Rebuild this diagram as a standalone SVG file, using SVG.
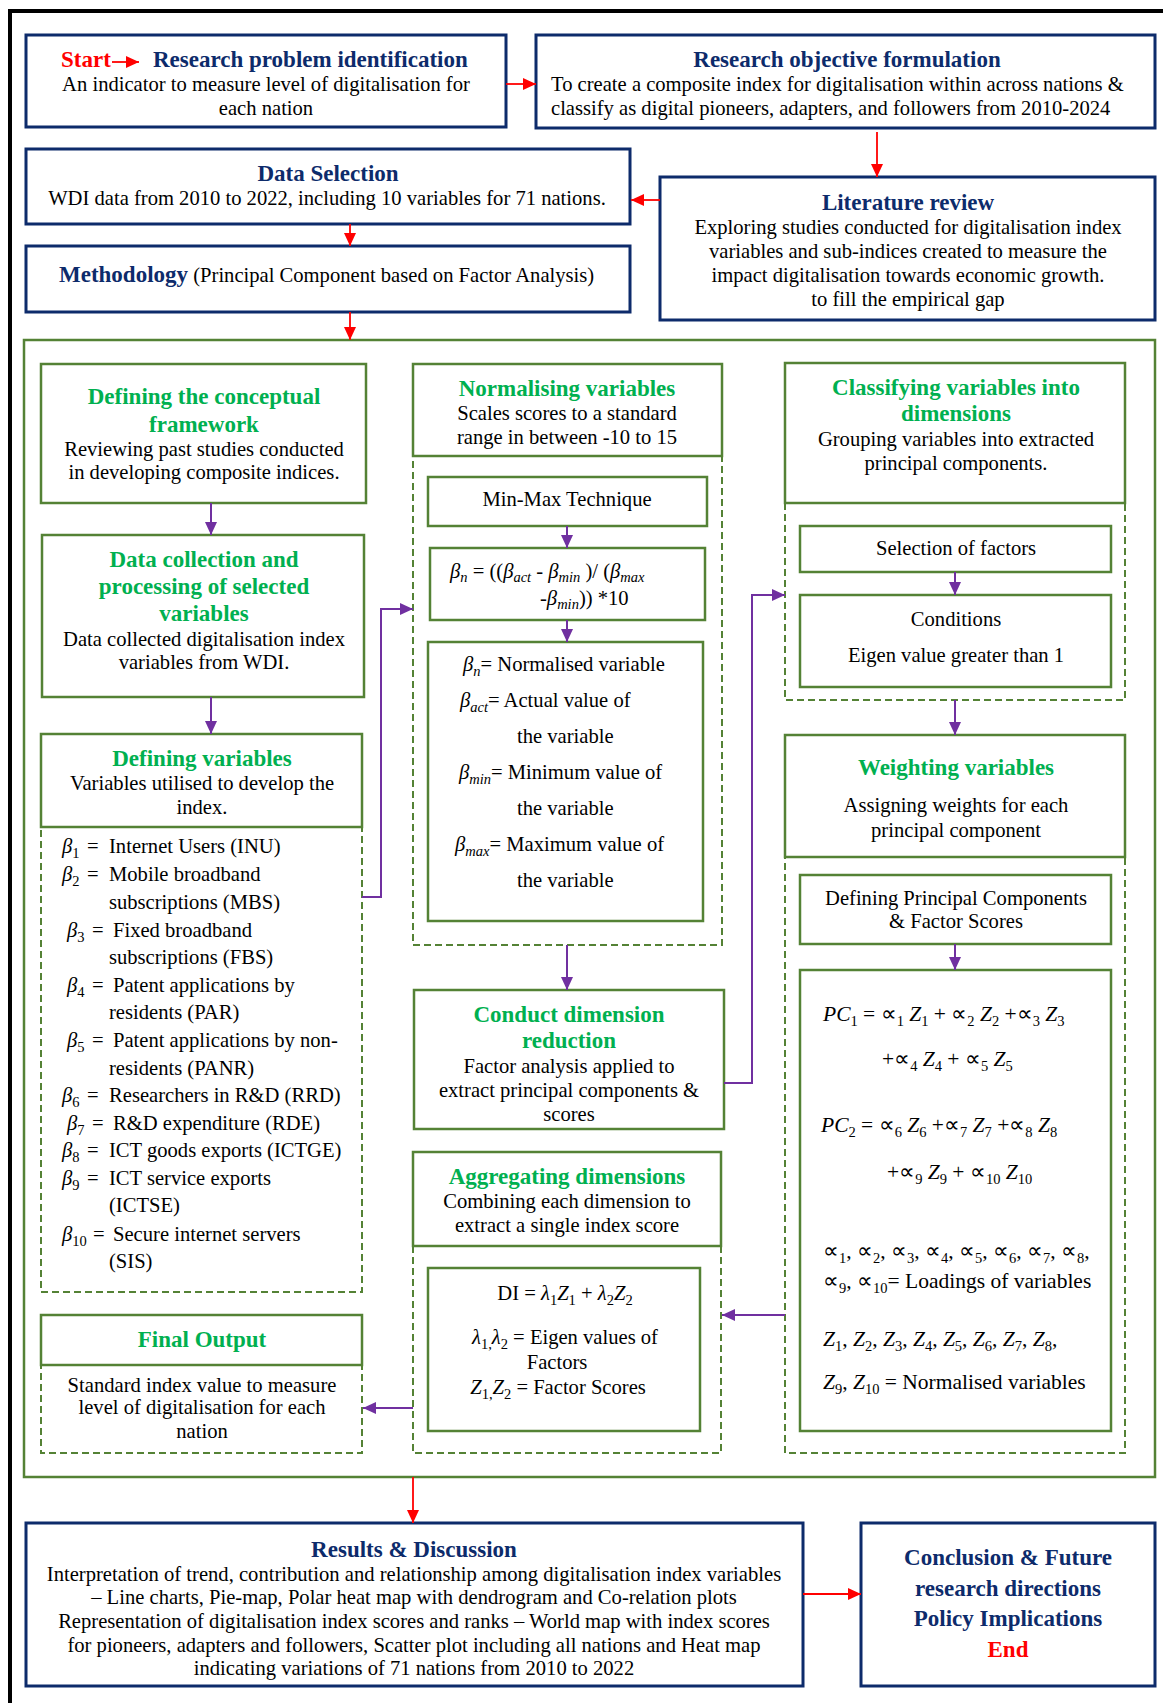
<svg xmlns="http://www.w3.org/2000/svg" width="1163" height="1703" viewBox="0 0 1163 1703">
<style>
text{font-family:"Liberation Serif","Times New Roman",serif;fill:#000}
.t{font-size:23px;font-weight:bold;fill:#0d2b6b;text-anchor:middle}
.tl{font-size:23px;font-weight:bold;fill:#0d2b6b}
.b{font-size:20.6px;text-anchor:middle}
.bl{font-size:20.6px}
.pf{font-size:21.5px}
.r{font-size:20.6px;text-anchor:middle}
.g{font-size:23px;font-weight:bold;fill:#00b050;text-anchor:middle}
.red{fill:#ff0000}
.m{font-style:italic}
.s{font-size:14.5px}
.nb{fill:#fff;stroke:#0d2b6b;stroke-width:3}
.gb{fill:#fff;stroke:#548235;stroke-width:2.5}
.gd{fill:none;stroke:#548235;stroke-width:2;stroke-dasharray:7 4}
.rc{fill:none;stroke:#ff0000;stroke-width:1.8}
.pc{fill:none;stroke:#7030a0;stroke-width:2}
</style>
<defs>
<marker id="ar" markerUnits="userSpaceOnUse" markerWidth="13" markerHeight="12" refX="13" refY="6" orient="auto"><path d="M0,0 L13,6 L0,12 z" fill="#ff0000"/></marker>
<marker id="ap" markerUnits="userSpaceOnUse" markerWidth="13" markerHeight="12" refX="13" refY="6" orient="auto"><path d="M0,0 L13,6 L0,12 z" fill="#7030a0"/></marker>
</defs>
<rect width="1163" height="1703" fill="#fff"/>
<path d="M10,1703 V11 H1163" fill="none" stroke="#000" stroke-width="4"/>

<g id="container"><rect x="24" y="340" width="1131" height="1137" fill="none" stroke="#548235" stroke-width="2.5"/></g>

<g id="problem">
<rect class="nb" x="26" y="35" width="480" height="92"/>
<text x="61" y="67" font-size="23" font-weight="bold" style="fill:#ff0000">Start</text>
<text class="tl" x="153" y="67">Research problem identification</text>
<text class="b" x="266" y="91">An indicator to measure level of digitalisation for</text>
<text class="b" x="266" y="115">each nation</text>
</g>
<g id="objective">
<rect class="nb" x="536" y="35" width="619" height="93"/>
<text class="t" x="847" y="67">Research objective formulation</text>
<text class="bl" x="551" y="91">To create a composite index for digitalisation within across nations &amp;</text>
<text class="bl" x="551" y="115">classify as digital pioneers, adapters, and followers from 2010-2024</text>
</g>
<g id="dataselection">
<rect class="nb" x="26" y="149" width="604" height="75"/>
<text class="t" x="328" y="181">Data Selection</text>
<text class="b" x="327" y="205">WDI data from 2010 to 2022, including 10 variables for 71 nations.</text>
</g>
<g id="literature">
<rect class="nb" x="660" y="177" width="495" height="143"/>
<text class="t" x="908" y="210">Literature review</text>
<text class="b" x="908" y="234">Exploring studies conducted for digitalisation index</text>
<text class="b" x="908" y="258">variables and sub-indices created to measure the</text>
<text class="b" x="908" y="282">impact digitalisation towards economic growth.</text>
<text class="b" x="908" y="306">to fill the empirical gap</text>
</g>
<g id="methodology">
<rect class="nb" x="26" y="246" width="604" height="66"/>
<text x="59" y="282"><tspan style="font-size:23px;font-weight:bold;fill:#0d2b6b">Methodology</tspan><tspan font-size="20.6"> (Principal Component based on Factor Analysis)</tspan></text>
</g>

<g id="conceptual">
<rect class="gb" x="41" y="364" width="325" height="139"/>
<text class="g" x="204" y="404">Defining the conceptual</text>
<text class="g" x="204" y="432">framework</text>
<text class="b" x="204" y="456">Reviewing past studies conducted</text>
<text class="b" x="204" y="479">in developing composite indices.</text>
</g>
<g id="datacollection">
<rect class="gb" x="42" y="535" width="322" height="162"/>
<text class="g" x="204" y="567">Data collection and</text>
<text class="g" x="204" y="594">processing of selected</text>
<text class="g" x="204" y="621">variables</text>
<text class="b" x="204" y="646">Data collected digitalisation index</text>
<text class="b" x="204" y="669">variables from WDI.</text>
</g>
<g id="definingvariables">
<rect class="gb" x="41" y="734" width="321" height="93"/>
<rect class="gd" x="41" y="827" width="321" height="465"/>
<text class="g" x="202" y="766">Defining variables</text>
<text class="b" x="202" y="790">Variables utilised to develop the</text>
<text class="b" x="202" y="814">index.</text>
<text class="bl" y="853"><tspan x="62" class="m">β</tspan><tspan class="s" dy="5">1</tspan><tspan x="87" dy="-5">=</tspan><tspan x="109">Internet Users (INU)</tspan></text>
<text class="bl" y="881"><tspan x="62" class="m">β</tspan><tspan class="s" dy="5">2</tspan><tspan x="87" dy="-5">=</tspan><tspan x="109">Mobile broadband</tspan></text>
<text class="bl" x="109" y="909">subscriptions (MBS)</text>
<text class="bl" y="937"><tspan x="67" class="m">β</tspan><tspan class="s" dy="5">3</tspan><tspan x="92" dy="-5">=</tspan><tspan x="113">Fixed broadband</tspan></text>
<text class="bl" x="109" y="964">subscriptions (FBS)</text>
<text class="bl" y="992"><tspan x="67" class="m">β</tspan><tspan class="s" dy="5">4</tspan><tspan x="92" dy="-5">=</tspan><tspan x="113">Patent applications by</tspan></text>
<text class="bl" x="109" y="1019">residents (PAR)</text>
<text class="bl" y="1047"><tspan x="67" class="m">β</tspan><tspan class="s" dy="5">5</tspan><tspan x="92" dy="-5">=</tspan><tspan x="113">Patent applications by non-</tspan></text>
<text class="bl" x="109" y="1075">residents (PANR)</text>
<text class="bl" y="1102"><tspan x="62" class="m">β</tspan><tspan class="s" dy="5">6</tspan><tspan x="87" dy="-5">=</tspan><tspan x="109">Researchers in R&amp;D (RRD)</tspan></text>
<text class="bl" y="1130"><tspan x="67" class="m">β</tspan><tspan class="s" dy="5">7</tspan><tspan x="92" dy="-5">=</tspan><tspan x="113">R&amp;D expenditure (RDE)</tspan></text>
<text class="bl" y="1157"><tspan x="62" class="m">β</tspan><tspan class="s" dy="5">8</tspan><tspan x="87" dy="-5">=</tspan><tspan x="109">ICT goods exports (ICTGE)</tspan></text>
<text class="bl" y="1185"><tspan x="62" class="m">β</tspan><tspan class="s" dy="5">9</tspan><tspan x="87" dy="-5">=</tspan><tspan x="109">ICT service exports</tspan></text>
<text class="bl" x="109" y="1212">(ICTSE)</text>
<text class="bl" y="1241"><tspan x="62" class="m">β</tspan><tspan class="s" dy="5">10</tspan><tspan x="93" dy="-5">=</tspan><tspan x="113">Secure internet servers</tspan></text>
<text class="bl" x="109" y="1268">(SIS)</text>
</g>
<g id="finaloutput">
<rect class="gb" x="41" y="1315" width="321" height="50"/>
<rect class="gd" x="41" y="1365" width="321" height="88"/>
<text class="g" x="202" y="1347">Final Output</text>
<text class="b" x="202" y="1392">Standard index value to measure</text>
<text class="b" x="202" y="1414">level of digitalisation for each</text>
<text class="b" x="202" y="1438">nation</text>
</g>

<g id="normalising">
<rect class="gb" x="413" y="364" width="309" height="92"/>
<rect class="gd" x="413" y="456" width="309" height="489"/>
<text class="g" x="567" y="396">Normalising variables</text>
<text class="b" x="567" y="420">Scales scores to a standard</text>
<text class="b" x="567" y="444">range in between -10 to 15</text>
</g>
<g id="minmax">
<rect class="gb" x="428" y="477" width="279" height="49"/>
<text class="b" x="567" y="506">Min-Max Technique</text>
</g>
<g id="formula">
<rect class="gb" x="430" y="548" width="275" height="72"/>
<text class="bl" x="450" y="578"><tspan class="m">β</tspan><tspan class="s m" dy="4">n</tspan><tspan dy="-4"> = ((</tspan><tspan class="m">β</tspan><tspan class="s m" dy="4">act</tspan><tspan dy="-4"> - </tspan><tspan class="m">β</tspan><tspan class="s m" dy="4">min</tspan><tspan dy="-4"> )/ (</tspan><tspan class="m">β</tspan><tspan class="s m" dy="4">max</tspan></text>
<text class="bl" x="540" y="605"><tspan>-</tspan><tspan class="m">β</tspan><tspan class="s m" dy="4">min</tspan><tspan dy="-4">)) *10</tspan></text>
</g>
<g id="definitions">
<rect class="gb" x="428" y="642" width="275" height="279"/>
<text class="bl" x="463" y="671"><tspan class="m">β</tspan><tspan class="s m" dy="5">n</tspan><tspan dy="-5">= Normalised variable</tspan></text>
<text class="bl" x="460" y="707"><tspan class="m">β</tspan><tspan class="s m" dy="5">act</tspan><tspan dy="-5">= Actual value of</tspan></text>
<text class="bl" x="517" y="743">the variable</text>
<text class="bl" x="459" y="779"><tspan class="m">β</tspan><tspan class="s m" dy="5">min</tspan><tspan dy="-5">= Minimum value of</tspan></text>
<text class="bl" x="517" y="815">the variable</text>
<text class="bl" x="455" y="851"><tspan class="m">β</tspan><tspan class="s m" dy="5">max</tspan><tspan dy="-5">= Maximum value of</tspan></text>
<text class="bl" x="517" y="887">the variable</text>
</g>
<g id="conduct">
<rect class="gb" x="414" y="990" width="310" height="139"/>
<text class="g" x="569" y="1022">Conduct dimension</text>
<text class="g" x="569" y="1048">reduction</text>
<text class="b" x="569" y="1073">Factor analysis applied to</text>
<text class="b" x="569" y="1097">extract principal components &amp;</text>
<text class="b" x="569" y="1121">scores</text>
</g>
<g id="aggregating">
<rect class="gb" x="413" y="1152" width="308" height="94"/>
<rect class="gd" x="413" y="1246" width="308" height="207"/>
<text class="g" x="567" y="1184">Aggregating dimensions</text>
<text class="b" x="567" y="1208">Combining each dimension to</text>
<text class="b" x="567" y="1232">extract a single index score</text>
</g>
<g id="di">
<rect class="gb" x="428" y="1268" width="272" height="163"/>
<text class="b" x="565" y="1300"><tspan>DI = </tspan><tspan class="m">λ</tspan><tspan class="s" dy="5">1</tspan><tspan class="m" dy="-5">Z</tspan><tspan class="s" dy="5">1</tspan><tspan dy="-5"> + </tspan><tspan class="m">λ</tspan><tspan class="s" dy="5">2</tspan><tspan class="m" dy="-5">Z</tspan><tspan class="s" dy="5">2</tspan></text>
<text class="b" x="565" y="1344"><tspan class="m">λ</tspan><tspan class="s" dy="5">1,</tspan><tspan class="m" dy="-5">λ</tspan><tspan class="s" dy="5">2</tspan><tspan dy="-5"> = Eigen values of</tspan></text>
<text class="b" x="557" y="1369">Factors</text>
<text class="b" x="558" y="1394"><tspan class="m">Z</tspan><tspan class="s" dy="5">1,</tspan><tspan class="m" dy="-5">Z</tspan><tspan class="s" dy="5">2</tspan><tspan dy="-5"> = Factor Scores</tspan></text>
</g>

<g id="classifying">
<rect class="gb" x="785" y="363" width="340" height="140"/>
<rect class="gd" x="785" y="503" width="340" height="197"/>
<text class="g" x="956" y="395">Classifying variables into</text>
<text class="g" x="956" y="421">dimensions</text>
<text class="b" x="956" y="446">Grouping variables into extracted</text>
<text class="b" x="956" y="470">principal components.</text>
</g>
<g id="selection">
<rect class="gb" x="800" y="526" width="311" height="46"/>
<text class="b" x="956" y="555">Selection of factors</text>
</g>
<g id="conditions">
<rect class="gb" x="800" y="595" width="311" height="92"/>
<text class="b" x="956" y="626">Conditions</text>
<text class="b" x="956" y="662">Eigen value greater than 1</text>
</g>
<g id="weighting">
<rect class="gb" x="785" y="735" width="340" height="122"/>
<rect class="gd" x="785" y="857" width="340" height="596"/>
<text class="g" x="956" y="775">Weighting variables</text>
<text class="b" x="956" y="812">Assigning weights for each</text>
<text class="b" x="956" y="837">principal component</text>
</g>
<g id="definingpc">
<rect class="gb" x="800" y="875" width="311" height="69"/>
<text class="b" x="956" y="905">Defining Principal Components</text>
<text class="b" x="956" y="928">&amp; Factor Scores</text>
</g>
<g id="pcformula">
<rect class="gb" x="800" y="970" width="311" height="461"/>
<text class="pf" x="823" y="1021"><tspan class="m">PC</tspan><tspan class="s" dy="5">1</tspan><tspan dy="-5"> = ∝</tspan><tspan class="s" dy="5">1</tspan><tspan class="m" dy="-5"> Z</tspan><tspan class="s" dy="5">1</tspan><tspan dy="-5"> +   ∝</tspan><tspan class="s" dy="5">2</tspan><tspan class="m" dy="-5"> Z</tspan><tspan class="s" dy="5">2</tspan><tspan dy="-5"> +∝</tspan><tspan class="s" dy="5">3</tspan><tspan class="m" dy="-5"> Z</tspan><tspan class="s" dy="5">3</tspan></text>
<text class="pf" x="882" y="1066"><tspan>+∝</tspan><tspan class="s" dy="5">4</tspan><tspan class="m" dy="-5"> Z</tspan><tspan class="s" dy="5">4</tspan><tspan dy="-5"> +  ∝</tspan><tspan class="s" dy="5">5</tspan><tspan class="m" dy="-5"> Z</tspan><tspan class="s" dy="5">5</tspan></text>
<text class="pf" x="821" y="1132"><tspan class="m">PC</tspan><tspan class="s" dy="5">2</tspan><tspan dy="-5"> =  ∝</tspan><tspan class="s" dy="5">6</tspan><tspan class="m" dy="-5"> Z</tspan><tspan class="s" dy="5">6</tspan><tspan dy="-5"> +∝</tspan><tspan class="s" dy="5">7</tspan><tspan class="m" dy="-5"> Z</tspan><tspan class="s" dy="5">7</tspan><tspan dy="-5"> +∝</tspan><tspan class="s" dy="5">8</tspan><tspan class="m" dy="-5"> Z</tspan><tspan class="s" dy="5">8</tspan></text>
<text class="pf" x="887" y="1179"><tspan>+∝</tspan><tspan class="s" dy="5">9</tspan><tspan class="m" dy="-5"> Z</tspan><tspan class="s" dy="5">9</tspan><tspan dy="-5"> +  ∝</tspan><tspan class="s" dy="5">10</tspan><tspan class="m" dy="-5"> Z</tspan><tspan class="s" dy="5">10</tspan></text>
<text class="pf" x="823" y="1258"><tspan>∝</tspan><tspan class="s" dy="5">1</tspan><tspan dy="-5">, ∝</tspan><tspan class="s" dy="5">2</tspan><tspan dy="-5">, ∝</tspan><tspan class="s" dy="5">3</tspan><tspan dy="-5">, ∝</tspan><tspan class="s" dy="5">4</tspan><tspan dy="-5">,  ∝</tspan><tspan class="s" dy="5">5</tspan><tspan dy="-5">, ∝</tspan><tspan class="s" dy="5">6</tspan><tspan dy="-5">, ∝</tspan><tspan class="s" dy="5">7</tspan><tspan dy="-5">, ∝</tspan><tspan class="s" dy="5">8</tspan><tspan dy="-5">,</tspan></text>
<text class="pf" x="823" y="1288"><tspan>∝</tspan><tspan class="s" dy="5">9</tspan><tspan dy="-5">, ∝</tspan><tspan class="s" dy="5">10</tspan><tspan dy="-5">=  Loadings of variables</tspan></text>
<text class="pf" x="823" y="1346"><tspan class="m">Z</tspan><tspan class="s" dy="5">1</tspan><tspan dy="-5">, </tspan><tspan class="m">Z</tspan><tspan class="s" dy="5">2</tspan><tspan dy="-5">, </tspan><tspan class="m">Z</tspan><tspan class="s" dy="5">3</tspan><tspan dy="-5">, </tspan><tspan class="m">Z</tspan><tspan class="s" dy="5">4</tspan><tspan dy="-5">, </tspan><tspan class="m">Z</tspan><tspan class="s" dy="5">5</tspan><tspan dy="-5">, </tspan><tspan class="m">Z</tspan><tspan class="s" dy="5">6</tspan><tspan dy="-5">, </tspan><tspan class="m">Z</tspan><tspan class="s" dy="5">7</tspan><tspan dy="-5">, </tspan><tspan class="m">Z</tspan><tspan class="s" dy="5">8</tspan><tspan dy="-5">,</tspan></text>
<text class="pf" x="823" y="1389"><tspan class="m">Z</tspan><tspan class="s" dy="5">9</tspan><tspan dy="-5">, </tspan><tspan class="m">Z</tspan><tspan class="s" dy="5">10</tspan><tspan dy="-5"> = Normalised variables</tspan></text>
</g>

<g id="results">
<rect class="nb" x="26" y="1523" width="777" height="163"/>
<text class="t" x="414" y="1557">Results &amp; Discussion</text>
<text class="r" x="414" y="1581">Interpretation of trend, contribution and relationship among digitalisation index variables</text>
<text class="r" x="414" y="1604">– Line charts, Pie-map, Polar heat map with dendrogram and Co-relation plots</text>
<text class="r" x="414" y="1628">Representation of digitalisation index scores and ranks – World map with index scores</text>
<text class="r" x="414" y="1652">for pioneers, adapters and followers, Scatter plot including all nations and Heat map</text>
<text class="r" x="414" y="1675">indicating variations of 71 nations from 2010 to 2022</text>
</g>
<g id="conclusion">
<rect class="nb" x="861" y="1523" width="294" height="163"/>
<text class="t" x="1008" y="1565">Conclusion &amp; Future</text>
<text class="t" x="1008" y="1596">research directions</text>
<text class="t" x="1008" y="1626">Policy Implications</text>
<text class="t" x="1008" y="1657" style="fill:#ff0000">End</text>
</g>

<g id="connectors">
<path class="rc" d="M112,62 H139" marker-end="url(#ar)"/>
<path class="rc" d="M506,84 H536" marker-end="url(#ar)"/>
<path class="rc" d="M877,132 V177" marker-end="url(#ar)"/>
<path class="rc" d="M660,200 H631" marker-end="url(#ar)"/>
<path class="rc" d="M350,224 V246" marker-end="url(#ar)"/>
<path class="rc" d="M350,312 V340" marker-end="url(#ar)"/>
<path class="rc" d="M413,1477 V1523" marker-end="url(#ar)"/>
<path class="rc" d="M803,1594 H861" marker-end="url(#ar)"/>
<path class="pc" d="M211,503 V535" marker-end="url(#ap)"/>
<path class="pc" d="M211,697 V734" marker-end="url(#ap)"/>
<path class="pc" d="M362,897 H381 V609 H413" marker-end="url(#ap)"/>
<path class="pc" d="M567,526 V548" marker-end="url(#ap)"/>
<path class="pc" d="M567,620 V642" marker-end="url(#ap)"/>
<path class="pc" d="M567,945 V990" marker-end="url(#ap)"/>
<path class="pc" d="M724,1083 H752 V595 H785" marker-end="url(#ap)"/>
<path class="pc" d="M955,572 V595" marker-end="url(#ap)"/>
<path class="pc" d="M955,700 V735" marker-end="url(#ap)"/>
<path class="pc" d="M955,944 V970" marker-end="url(#ap)"/>
<path class="pc" d="M785,1315 H722" marker-end="url(#ap)"/>
<path class="pc" d="M413,1408 H363" marker-end="url(#ap)"/>
</g>
</svg>
